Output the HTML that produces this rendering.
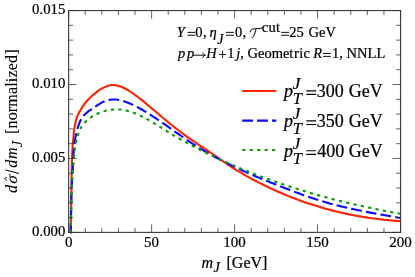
<!DOCTYPE html>
<html><head><meta charset="utf-8"><title>plot</title>
<style>
html,body{margin:0;padding:0;background:#fff;}
body{width:415px;height:277px;overflow:hidden;font-family:"Liberation Serif",serif;}
svg{display:block;will-change:transform;opacity:0.999}
text{font-family:"Liberation Serif",serif;fill:#000;stroke:#000;stroke-width:0.22px}
.rot text{stroke-width:0.08px}
.i{font-style:italic}
</style></head><body>
<svg width="415" height="277" viewBox="0 0 415 277">
<rect width="415" height="277" fill="#fff"/>
<defs><clipPath id="cp"><rect x="68.65" y="10.55" width="331.9" height="222.85"/></clipPath></defs>
<g clip-path="url(#cp)" fill="none" stroke-width="2.1" stroke-linejoin="round">
<path d="M70.70 233.40 C70.82 226.17 71.22 200.90 71.40 190.00 C71.58 179.10 71.62 175.00 71.80 168.00 C71.98 161.00 72.25 152.85 72.50 148.00 C72.75 143.15 73.00 142.10 73.30 138.90 C73.60 135.70 73.77 132.17 74.30 128.80 C74.83 125.43 75.88 121.07 76.50 118.70 C77.12 116.33 77.30 116.08 78.00 114.60 C78.70 113.12 79.70 111.47 80.70 109.80 C81.70 108.13 82.78 106.27 84.00 104.59 C85.22 102.92 86.67 101.21 88.00 99.76 C89.33 98.32 90.67 97.13 92.00 95.94 C93.33 94.74 94.67 93.66 96.00 92.62 C97.33 91.58 98.67 90.58 100.00 89.70 C101.33 88.82 102.67 88.00 104.00 87.34 C105.33 86.68 106.67 86.11 108.00 85.73 C109.33 85.35 110.67 85.12 112.00 85.05 C113.33 84.98 114.67 85.09 116.00 85.31 C117.33 85.53 118.67 85.90 120.00 86.36 C121.33 86.81 122.67 87.40 124.00 88.05 C125.33 88.69 126.67 89.43 128.00 90.21 C129.33 91.00 130.67 91.86 132.00 92.75 C133.33 93.65 134.67 94.60 136.00 95.59 C137.33 96.57 138.67 97.61 140.00 98.66 C141.33 99.71 142.67 100.80 144.00 101.90 C145.33 102.99 146.67 104.12 148.00 105.24 C149.33 106.36 150.67 107.50 152.00 108.62 C153.33 109.75 154.67 110.88 156.00 112.00 C157.33 113.12 158.67 114.24 160.00 115.36 C161.33 116.47 162.67 117.58 164.00 118.69 C165.33 119.79 166.67 120.89 168.00 121.97 C169.33 123.06 170.67 124.14 172.00 125.21 C173.33 126.28 174.67 127.33 176.00 128.38 C177.33 129.42 178.67 130.45 180.00 131.47 C181.33 132.49 182.67 133.49 184.00 134.47 C185.33 135.46 186.67 136.43 188.00 137.38 C189.33 138.33 190.67 139.26 192.00 140.17 C193.33 141.09 194.67 141.98 196.00 142.87 C197.33 143.76 198.67 144.63 200.00 145.51 C201.33 146.39 202.67 147.25 204.00 148.13 C205.33 149.01 206.67 149.89 208.00 150.79 C209.33 151.68 210.67 152.58 212.00 153.50 C213.33 154.42 214.67 155.37 216.00 156.31 C217.33 157.25 218.67 158.20 220.00 159.15 C221.33 160.09 222.67 161.03 224.00 161.95 C225.33 162.87 226.67 163.78 228.00 164.67 C229.33 165.56 230.67 166.43 232.00 167.28 C233.33 168.14 234.67 168.97 236.00 169.80 C237.33 170.62 238.67 171.42 240.00 172.21 C241.33 173.01 242.67 173.78 244.00 174.55 C245.33 175.31 246.67 176.06 248.00 176.80 C249.33 177.54 250.67 178.26 252.00 178.98 C253.33 179.70 254.67 180.40 256.00 181.09 C257.33 181.79 258.67 182.47 260.00 183.14 C261.33 183.82 262.67 184.48 264.00 185.14 C265.33 185.79 266.67 186.44 268.00 187.07 C269.33 187.71 270.67 188.33 272.00 188.95 C273.33 189.56 274.67 190.17 276.00 190.77 C277.33 191.36 278.67 191.95 280.00 192.53 C281.33 193.11 282.67 193.67 284.00 194.23 C285.33 194.79 286.67 195.34 288.00 195.88 C289.33 196.42 290.67 196.95 292.00 197.47 C293.33 197.99 294.67 198.50 296.00 199.01 C297.33 199.51 298.67 200.00 300.00 200.49 C301.33 200.97 302.67 201.45 304.00 201.91 C305.33 202.38 306.67 202.84 308.00 203.28 C309.33 203.73 310.67 204.17 312.00 204.60 C313.33 205.03 314.67 205.45 316.00 205.86 C317.33 206.28 318.67 206.68 320.00 207.07 C321.33 207.47 322.67 207.85 324.00 208.23 C325.33 208.61 326.67 208.98 328.00 209.34 C329.33 209.70 330.67 210.05 332.00 210.39 C333.33 210.74 334.67 211.07 336.00 211.40 C337.33 211.72 338.67 212.04 340.00 212.35 C341.33 212.66 342.67 212.97 344.00 213.26 C345.33 213.55 346.67 213.84 348.00 214.12 C349.33 214.39 350.67 214.66 352.00 214.92 C353.33 215.19 354.67 215.44 356.00 215.69 C357.33 215.93 358.67 216.17 360.00 216.40 C361.33 216.63 362.67 216.85 364.00 217.07 C365.33 217.28 366.67 217.49 368.00 217.69 C369.33 217.89 370.67 218.08 372.00 218.27 C373.33 218.45 374.67 218.63 376.00 218.80 C377.33 218.97 378.67 219.14 380.00 219.29 C381.33 219.45 382.67 219.60 384.00 219.74 C385.33 219.88 386.67 220.02 388.00 220.14 C389.33 220.27 390.67 220.39 392.00 220.51 C393.33 220.62 394.67 220.73 396.00 220.83 C397.33 220.93 399.23 221.05 400.00 221.11 C400.77 221.16 400.50 221.14 400.60 221.15" stroke="#ff2200"/>
<path d="M70.70 233.40 C70.85 226.17 71.25 200.90 71.60 190.00 C71.95 179.10 72.42 175.00 72.80 168.00 C73.18 161.00 73.65 151.88 73.90 148.00 C74.15 144.12 74.00 146.70 74.30 144.70 C74.60 142.70 75.10 138.90 75.70 136.00 C76.30 133.10 77.43 129.05 77.90 127.30 C78.37 125.55 78.03 126.70 78.50 125.50 C78.97 124.30 79.78 121.81 80.70 120.10 C81.62 118.39 82.78 116.65 84.00 115.24 C85.22 113.84 86.67 112.72 88.00 111.67 C89.33 110.62 90.67 109.86 92.00 108.94 C93.33 108.03 94.67 107.06 96.00 106.16 C97.33 105.27 98.67 104.36 100.00 103.58 C101.33 102.79 102.67 102.05 104.00 101.47 C105.33 100.90 106.67 100.44 108.00 100.11 C109.33 99.78 110.67 99.59 112.00 99.49 C113.33 99.39 114.67 99.42 116.00 99.52 C117.33 99.63 118.67 99.84 120.00 100.12 C121.33 100.40 122.67 100.77 124.00 101.20 C125.33 101.62 126.67 102.12 128.00 102.66 C129.33 103.19 130.67 103.79 132.00 104.41 C133.33 105.03 134.67 105.69 136.00 106.38 C137.33 107.06 138.67 107.78 140.00 108.52 C141.33 109.26 142.67 110.02 144.00 110.81 C145.33 111.60 146.67 112.41 148.00 113.24 C149.33 114.07 150.67 114.92 152.00 115.78 C153.33 116.64 154.67 117.53 156.00 118.42 C157.33 119.31 158.67 120.22 160.00 121.13 C161.33 122.05 162.67 122.98 164.00 123.91 C165.33 124.84 166.67 125.78 168.00 126.72 C169.33 127.66 170.67 128.61 172.00 129.55 C173.33 130.49 174.67 131.44 176.00 132.38 C177.33 133.32 178.67 134.26 180.00 135.19 C181.33 136.12 182.67 137.05 184.00 137.96 C185.33 138.88 186.67 139.79 188.00 140.68 C189.33 141.57 190.67 142.45 192.00 143.32 C193.33 144.18 194.67 145.03 196.00 145.87 C197.33 146.71 198.67 147.53 200.00 148.34 C201.33 149.16 202.67 149.95 204.00 150.74 C205.33 151.53 206.67 152.30 208.00 153.06 C209.33 153.82 210.67 154.57 212.00 155.31 C213.33 156.05 214.67 156.78 216.00 157.50 C217.33 158.21 218.67 158.92 220.00 159.62 C221.33 160.31 222.67 161.00 224.00 161.68 C225.33 162.36 226.67 163.02 228.00 163.68 C229.33 164.34 230.67 164.99 232.00 165.63 C233.33 166.28 234.67 166.91 236.00 167.53 C237.33 168.16 238.67 168.78 240.00 169.39 C241.33 170.00 242.67 170.61 244.00 171.20 C245.33 171.80 246.67 172.39 248.00 172.98 C249.33 173.56 250.67 174.14 252.00 174.72 C253.33 175.29 254.67 175.86 256.00 176.43 C257.33 176.99 258.67 177.55 260.00 178.10 C261.33 178.66 262.67 179.21 264.00 179.76 C265.33 180.31 266.67 180.85 268.00 181.39 C269.33 181.93 270.67 182.47 272.00 183.01 C273.33 183.54 274.67 184.08 276.00 184.61 C277.33 185.14 278.67 185.67 280.00 186.20 C281.33 186.72 282.67 187.25 284.00 187.77 C285.33 188.29 286.67 188.81 288.00 189.33 C289.33 189.84 290.67 190.35 292.00 190.86 C293.33 191.37 294.67 191.87 296.00 192.37 C297.33 192.87 298.67 193.36 300.00 193.84 C301.33 194.33 302.67 194.81 304.00 195.29 C305.33 195.76 306.67 196.23 308.00 196.69 C309.33 197.15 310.67 197.60 312.00 198.05 C313.33 198.49 314.67 198.93 316.00 199.36 C317.33 199.79 318.67 200.21 320.00 200.62 C321.33 201.04 322.67 201.44 324.00 201.83 C325.33 202.22 326.67 202.61 328.00 202.98 C329.33 203.36 330.67 203.72 332.00 204.08 C333.33 204.44 334.67 204.79 336.00 205.13 C337.33 205.47 338.67 205.80 340.00 206.13 C341.33 206.46 342.67 206.78 344.00 207.09 C345.33 207.40 346.67 207.71 348.00 208.01 C349.33 208.31 350.67 208.60 352.00 208.89 C353.33 209.18 354.67 209.46 356.00 209.74 C357.33 210.02 358.67 210.30 360.00 210.57 C361.33 210.83 362.67 211.10 364.00 211.36 C365.33 211.62 366.67 211.88 368.00 212.13 C369.33 212.39 370.67 212.64 372.00 212.89 C373.33 213.14 374.67 213.38 376.00 213.63 C377.33 213.87 378.67 214.12 380.00 214.36 C381.33 214.60 382.67 214.84 384.00 215.08 C385.33 215.31 386.67 215.55 388.00 215.79 C389.33 216.03 390.67 216.26 392.00 216.50 C393.33 216.74 394.67 216.98 396.00 217.22 C397.33 217.46 399.23 217.80 400.00 217.94 C400.77 218.07 400.50 218.03 400.60 218.04" stroke="#0a0aff" stroke-dasharray="10.8 4.13"/>
<path d="M70.70 233.40 C70.88 226.17 71.38 200.90 71.80 190.00 C72.22 179.10 72.68 175.00 73.20 168.00 C73.72 161.00 74.35 152.60 74.90 148.00 C75.45 143.40 75.88 142.88 76.50 140.40 C77.12 137.92 77.85 135.22 78.60 133.10 C79.35 130.98 80.52 128.78 81.00 127.70 C81.48 126.62 81.00 127.28 81.50 126.60 C82.00 125.92 82.92 124.82 84.00 123.65 C85.08 122.47 86.67 120.74 88.00 119.55 C89.33 118.37 90.67 117.40 92.00 116.52 C93.33 115.63 94.67 114.92 96.00 114.25 C97.33 113.59 98.67 113.03 100.00 112.52 C101.33 112.00 102.67 111.56 104.00 111.17 C105.33 110.78 106.67 110.46 108.00 110.20 C109.33 109.95 110.67 109.75 112.00 109.62 C113.33 109.48 114.67 109.41 116.00 109.40 C117.33 109.39 118.67 109.44 120.00 109.55 C121.33 109.66 122.67 109.83 124.00 110.06 C125.33 110.30 126.67 110.59 128.00 110.94 C129.33 111.29 130.67 111.70 132.00 112.16 C133.33 112.61 134.67 113.13 136.00 113.68 C137.33 114.23 138.67 114.83 140.00 115.47 C141.33 116.10 142.67 116.78 144.00 117.48 C145.33 118.18 146.67 118.92 148.00 119.67 C149.33 120.42 150.67 121.21 152.00 122.00 C153.33 122.80 154.67 123.61 156.00 124.43 C157.33 125.25 158.67 126.09 160.00 126.92 C161.33 127.75 162.67 128.59 164.00 129.42 C165.33 130.25 166.67 131.08 168.00 131.89 C169.33 132.71 170.67 133.51 172.00 134.31 C173.33 135.11 174.67 135.89 176.00 136.67 C177.33 137.45 178.67 138.22 180.00 138.98 C181.33 139.74 182.67 140.49 184.00 141.23 C185.33 141.97 186.67 142.71 188.00 143.43 C189.33 144.16 190.67 144.87 192.00 145.58 C193.33 146.29 194.67 146.99 196.00 147.69 C197.33 148.38 198.67 149.07 200.00 149.75 C201.33 150.43 202.67 151.10 204.00 151.76 C205.33 152.43 206.67 153.08 208.00 153.73 C209.33 154.38 210.67 155.03 212.00 155.67 C213.33 156.30 214.67 156.93 216.00 157.56 C217.33 158.19 218.67 158.80 220.00 159.42 C221.33 160.03 222.67 160.64 224.00 161.24 C225.33 161.84 226.67 162.44 228.00 163.03 C229.33 163.62 230.67 164.20 232.00 164.78 C233.33 165.36 234.67 165.93 236.00 166.50 C237.33 167.07 238.67 167.63 240.00 168.19 C241.33 168.75 242.67 169.30 244.00 169.84 C245.33 170.39 246.67 170.93 248.00 171.47 C249.33 172.00 250.67 172.53 252.00 173.06 C253.33 173.58 254.67 174.10 256.00 174.62 C257.33 175.13 258.67 175.64 260.00 176.15 C261.33 176.65 262.67 177.15 264.00 177.65 C265.33 178.14 266.67 178.63 268.00 179.11 C269.33 179.60 270.67 180.08 272.00 180.55 C273.33 181.03 274.67 181.50 276.00 181.96 C277.33 182.43 278.67 182.89 280.00 183.35 C281.33 183.80 282.67 184.25 284.00 184.70 C285.33 185.15 286.67 185.59 288.00 186.03 C289.33 186.46 290.67 186.90 292.00 187.32 C293.33 187.75 294.67 188.18 296.00 188.60 C297.33 189.01 298.67 189.43 300.00 189.84 C301.33 190.25 302.67 190.66 304.00 191.06 C305.33 191.46 306.67 191.86 308.00 192.25 C309.33 192.65 310.67 193.04 312.00 193.42 C313.33 193.81 314.67 194.19 316.00 194.57 C317.33 194.94 318.67 195.32 320.00 195.69 C321.33 196.06 322.67 196.42 324.00 196.78 C325.33 197.14 326.67 197.50 328.00 197.86 C329.33 198.21 330.67 198.56 332.00 198.91 C333.33 199.25 334.67 199.59 336.00 199.93 C337.33 200.27 338.67 200.61 340.00 200.94 C341.33 201.27 342.67 201.60 344.00 201.92 C345.33 202.25 346.67 202.57 348.00 202.89 C349.33 203.20 350.67 203.52 352.00 203.83 C353.33 204.14 354.67 204.45 356.00 204.75 C357.33 205.06 358.67 205.36 360.00 205.65 C361.33 205.95 362.67 206.25 364.00 206.54 C365.33 206.83 366.67 207.12 368.00 207.40 C369.33 207.69 370.67 207.97 372.00 208.25 C373.33 208.53 374.67 208.80 376.00 209.08 C377.33 209.35 378.67 209.62 380.00 209.89 C381.33 210.15 382.67 210.42 384.00 210.68 C385.33 210.94 386.67 211.20 388.00 211.46 C389.33 211.71 390.67 211.97 392.00 212.22 C393.33 212.47 394.67 212.72 396.00 212.96 C397.33 213.21 399.23 213.55 400.00 213.69 C400.77 213.83 400.50 213.78 400.60 213.80" stroke="#0a9d0a" stroke-dasharray="3.3 4.2" stroke-dashoffset="-0.3"/>
</g>
<rect x="68.65" y="10.55" width="331.9" height="221.85" fill="none" stroke="#404040" stroke-width="1.15"/>
<path d="M68.65 232.40V224.40M68.65 10.55V18.55M85.25 232.40V227.90M85.25 10.55V15.05M101.84 232.40V227.90M101.84 10.55V15.05M118.44 232.40V227.90M118.44 10.55V15.05M135.03 232.40V227.90M135.03 10.55V15.05M151.62 232.40V224.40M151.62 10.55V18.55M168.22 232.40V227.90M168.22 10.55V15.05M184.81 232.40V227.90M184.81 10.55V15.05M201.41 232.40V227.90M201.41 10.55V15.05M218.00 232.40V227.90M218.00 10.55V15.05M234.60 232.40V224.40M234.60 10.55V18.55M251.19 232.40V227.90M251.19 10.55V15.05M267.79 232.40V227.90M267.79 10.55V15.05M284.38 232.40V227.90M284.38 10.55V15.05M300.98 232.40V227.90M300.98 10.55V15.05M317.57 232.40V224.40M317.57 10.55V18.55M334.17 232.40V227.90M334.17 10.55V15.05M350.76 232.40V227.90M350.76 10.55V15.05M367.36 232.40V227.90M367.36 10.55V15.05M383.96 232.40V227.90M383.96 10.55V15.05M400.55 232.40V224.40M400.55 10.55V18.55M68.65 232.40H76.65M400.55 232.40H392.55M68.65 217.61H73.15M400.55 217.61H396.05M68.65 202.82H73.15M400.55 202.82H396.05M68.65 188.03H73.15M400.55 188.03H396.05M68.65 173.24H73.15M400.55 173.24H396.05M68.65 158.45H76.65M400.55 158.45H392.55M68.65 143.66H73.15M400.55 143.66H396.05M68.65 128.87H73.15M400.55 128.87H396.05M68.65 114.08H73.15M400.55 114.08H396.05M68.65 99.29H73.15M400.55 99.29H396.05M68.65 84.50H76.65M400.55 84.50H392.55M68.65 69.71H73.15M400.55 69.71H396.05M68.65 54.92H73.15M400.55 54.92H396.05M68.65 40.13H73.15M400.55 40.13H396.05M68.65 25.34H73.15M400.55 25.34H396.05M68.65 10.55H76.65M400.55 10.55H392.55" stroke="#303030" stroke-width="0.75" fill="none"/>
<text x="68.65" y="246.5" text-anchor="middle" font-size="15">0</text>
<text x="151.62" y="246.5" text-anchor="middle" font-size="15">50</text>
<text x="234.60" y="246.5" text-anchor="middle" font-size="15">100</text>
<text x="317.57" y="246.5" text-anchor="middle" font-size="15">150</text>
<text x="400.55" y="246.5" text-anchor="middle" font-size="15">200</text>
<text x="65.4" y="236.30" text-anchor="end" font-size="14.8">0.000</text>
<text x="65.4" y="162.35" text-anchor="end" font-size="14.8">0.005</text>
<text x="65.4" y="88.40" text-anchor="end" font-size="14.8">0.010</text>
<text x="65.4" y="14.45" text-anchor="end" font-size="14.8">0.015</text>
<!-- legend lines -->
<g fill="none" stroke-width="2.2">
<path d="M242.2 91H276.3" stroke="#ff2200"/>
<path d="M242.2 120.7H276.3" stroke="#0a0aff" stroke-dasharray="10.8 4.1"/>
<path d="M242.2 150H276.3" stroke="#0a9d0a" stroke-dasharray="3.25 4.2"/>
</g>
<text x="283.95" y="96.90" font-size="18" class="i">p</text>
<text x="292.84" y="89.30" font-size="17" class="i">J</text>
<text x="292.82" y="104.30" font-size="16.5" class="i">T</text>
<path d="M306.30 90.83h9.81M306.30 94.43h9.81" stroke="#000" stroke-width="1.19" fill="none"/>
<text x="316.84" y="96.90" font-size="18">300</text>
<text x="348.86" y="96.90" font-size="18">GeV</text>
<text x="283.95" y="126.95" font-size="18" class="i">p</text>
<text x="292.84" y="119.35" font-size="17" class="i">J</text>
<text x="292.82" y="134.35" font-size="16.5" class="i">T</text>
<path d="M306.30 120.88h9.81M306.30 124.48h9.81" stroke="#000" stroke-width="1.19" fill="none"/>
<text x="316.84" y="126.95" font-size="18">350</text>
<text x="348.86" y="126.95" font-size="18">GeV</text>
<text x="283.95" y="156.80" font-size="18" class="i">p</text>
<text x="292.84" y="149.20" font-size="17" class="i">J</text>
<text x="292.82" y="164.20" font-size="16.5" class="i">T</text>
<path d="M306.30 150.73h9.81M306.30 154.33h9.81" stroke="#000" stroke-width="1.19" fill="none"/>
<text x="317.35" y="156.80" font-size="18">400</text>
<text x="348.86" y="156.80" font-size="18">GeV</text>
<text x="176.77" y="37.25" font-size="14.5" class="i">Y</text>
<path d="M187.50 32.36h7.90M187.50 35.26h7.90" stroke="#000" stroke-width="0.96" fill="none"/>
<text x="195.35" y="37.25" font-size="14.5">0</text>
<text x="202.95" y="37.25" font-size="14.5">,</text>
<text x="209.48" y="37.25" font-size="14.5" class="i">η</text>
<text x="217.19" y="43.55" font-size="14" class="i">J</text>
<path d="M226.00 32.36h7.90M226.00 35.26h7.90" stroke="#000" stroke-width="0.96" fill="none"/>
<text x="235.05" y="37.25" font-size="14.5">0</text>
<text x="242.55" y="37.25" font-size="14.5">,</text>
<text letter-spacing="0.33" x="261.65" y="31.95" font-size="14.5">cut</text>
<path d="M281.20 32.36h7.90M281.20 35.26h7.90" stroke="#000" stroke-width="0.96" fill="none"/>
<text x="289.16" y="37.25" font-size="14.5">25</text>
<text x="308.61" y="37.25" font-size="14.5">GeV</text>
<path d="M250.1 31.9 C250.4 30.2 251.4 29.2 253.2 28.9 C256 28.5 259.5 28.9 262.3 27.9 M256 28.8 C255.6 31.5 254.6 34.5 253.6 36.4 C253.2 37.2 252.6 37.6 252 37.5" fill="none" stroke="#000" stroke-width="1" stroke-linecap="round"/><path d="M193.8 55.2H204.8M202.8 52.9C203.3 54.2 204.1 54.9 205.3 55.2C204.1 55.5 203.3 56.2 202.8 57.5" fill="none" stroke="#000" stroke-width="0.95" stroke-linecap="round"/>
<text x="177.95" y="58.35" font-size="14.5" class="i">p</text>
<text x="186.95" y="58.35" font-size="14.5" class="i">p</text>
<text x="206.26" y="58.35" font-size="14.5" class="i">H</text>
<text x="218.38" y="59.05" font-size="14.5">+</text>
<text x="227.33" y="58.35" font-size="14.5">1</text>
<text x="236.15" y="58.35" font-size="14.5" class="i">j</text>
<text x="240.25" y="58.35" font-size="14.5">,</text>
<text x="247.51" y="58.35" font-size="14.5">Geomet</text>
<text x="313.28" y="58.35" font-size="14.5" class="i">R</text>
<path d="M322.90 53.46h7.90M322.90 56.36h7.90" stroke="#000" stroke-width="0.96" fill="none"/>
<text x="332.03" y="58.35" font-size="14.5">1</text>
<text x="339.25" y="58.35" font-size="14.5">,</text>
<text x="346.58" y="58.35" font-size="14.5">NNLL</text>
<text x="293.90" y="58.35" font-size="14.5">r</text>
<text x="299.30" y="58.35" font-size="14.5">i</text>
<text x="303.60" y="58.35" font-size="14.5">c</text>
<text x="201.62" y="267.80" font-size="16" class="i">m</text>
<text x="213.38" y="271.80" font-size="14.5" class="i">J</text>
<text x="226.51" y="268.00" font-size="16">[GeV]</text>
<g class="rot" transform="translate(16.9 192.5) rotate(-90)"><text x="-0.48" y="0.00" font-size="16" class="i">d</text><text transform="translate(7.9 0) skewX(-14)" font-size="16">σ</text><path d="M12.0 -9.9L13.9 -12.3L15.4 -9.9" fill="none" stroke="#000" stroke-width="0.8"/><path d="M19.0 2L22.6 -11.4" fill="none" stroke="#000" stroke-width="1"/><text x="24.82" y="0.00" font-size="16" class="i">d</text><text x="33.62" y="0.00" font-size="16" class="i">m</text><text x="45.38" y="4.60" font-size="14.5" class="i">J</text><text letter-spacing="0.17" x="58.51" y="0.00" font-size="16">[normalized]</text></g>
</svg>
</body></html>
